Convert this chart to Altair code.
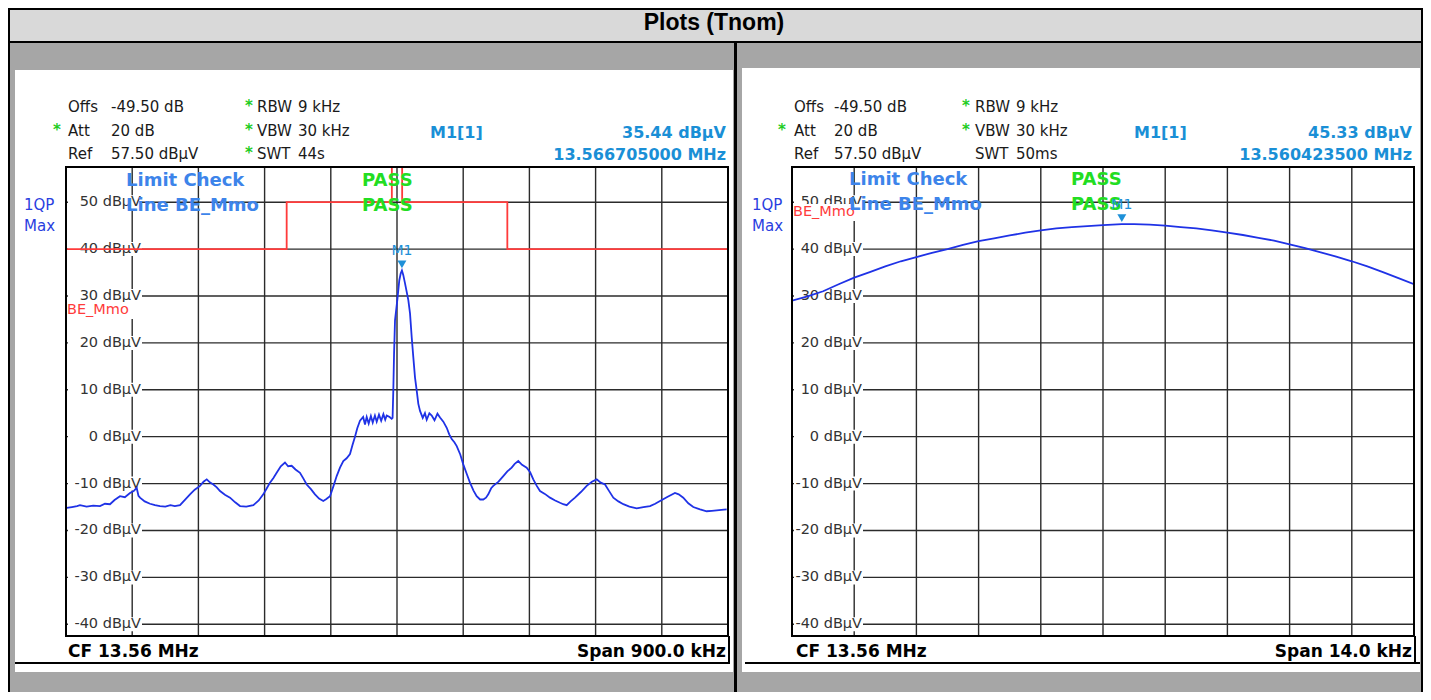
import altair as alt
import pandas as pd

# ---------------- data ----------------
left_freq = [13.1109, 13.1180, 13.1250, 13.1290, 13.1380, 13.1470, 13.1562, 13.1630, 13.1698, 13.1760,
             13.1834, 13.1900, 13.1970, 13.2020, 13.2061, 13.2085, 13.2106, 13.2170, 13.2242, 13.2310,
             13.2378, 13.2450, 13.2520, 13.2580, 13.2650, 13.2720, 13.2786, 13.2850, 13.2922, 13.2970,
             13.3013, 13.3060, 13.3103, 13.3150, 13.3194, 13.3260, 13.3330, 13.3400, 13.3466, 13.3550,
             13.3647, 13.3720, 13.3782, 13.3830, 13.3873, 13.3920, 13.3964, 13.4020, 13.4077, 13.4120,
             13.4168, 13.4220, 13.4281, 13.4330, 13.4372, 13.4430, 13.4485, 13.4540, 13.4598, 13.4640,
             13.4689, 13.4735, 13.4780, 13.4825, 13.4870, 13.4915, 13.4961, 13.4995, 13.5029, 13.5060,
             13.5097, 13.5140, 13.5165, 13.5188, 13.5215, 13.5245, 13.5270, 13.5300, 13.5324, 13.5355,
             13.5385, 13.5415, 13.5440, 13.5460, 13.5500, 13.5528, 13.5540, 13.5550, 13.5560, 13.5573,
             13.5604, 13.5631, 13.5650, 13.5667, 13.5685, 13.5709, 13.5754, 13.5777, 13.5800, 13.5822,
             13.5845, 13.5868, 13.5890, 13.5913, 13.5950, 13.5980, 13.6004, 13.6040, 13.6072, 13.6110,
             13.6150, 13.6185, 13.6230, 13.6276, 13.6310, 13.6344, 13.6380, 13.6412, 13.6460, 13.6501,
             13.6550, 13.6592, 13.6640, 13.6683, 13.6730, 13.6773, 13.6810, 13.6841, 13.6880, 13.6909,
             13.6980, 13.7045, 13.7100, 13.7159, 13.7200, 13.7249, 13.7300, 13.7363, 13.7410, 13.7453,
             13.7500, 13.7544, 13.7610, 13.7680, 13.7750, 13.7816, 13.7860, 13.7907, 13.7960, 13.8020,
             13.8100, 13.8179, 13.8250, 13.8315, 13.8370, 13.8428, 13.8480, 13.8541, 13.8610, 13.8677,
             13.8760, 13.8859, 13.8950, 13.9040, 13.9110, 13.9176, 13.9280, 13.9379, 13.9430, 13.9492,
             13.9560, 13.9628, 13.9720, 13.9810, 13.9880, 13.9946, 14.0010, 14.0082]
left_level = [-15.2, -15.0, -14.8, -14.6, -14.9, -14.7, -14.8, -14.3, -14.4, -13.5,
              -12.7, -12.9, -12.0, -11.6, -10.9, -12.6, -13.0, -13.8, -14.3, -14.6,
              -14.8, -14.9, -14.6, -14.8, -14.6, -13.4, -12.3, -11.3, -10.5, -9.6,
              -9.1, -9.8, -10.2, -10.8, -11.6, -12.4, -13.0, -14.0, -14.8, -14.9,
              -14.6, -13.6, -12.3, -11.0, -9.8, -8.8, -7.7, -6.3, -5.5, -6.3,
              -6.2, -7.0, -7.7, -9.0, -10.2, -11.2, -12.3, -13.2, -13.7, -13.3,
              -12.7, -10.6, -8.4, -6.6, -5.2, -4.6, -3.7, -1.8, 0.0, 1.8,
              3.4, 4.2, 2.6, 4.2, 2.8, 4.4, 3.0, 4.5, 3.2, 4.7,
              3.4, 4.8, 3.6, 4.5, 4.2, 3.8, 4.0, 10.0, 17.7, 24.8,
              29.1, 33.3, 34.8, 35.44, 34.5, 32.7, 29.1, 26.3, 21.2, 16.9,
              12.6, 9.8, 7.0, 5.5, 4.0, 5.0, 3.6, 5.0, 4.5, 3.5,
              4.9, 4.1, 3.2, 1.9, 0.5, -0.5, -1.2, -2.0, -3.8, -5.9,
              -8.0, -9.8, -11.5, -12.7, -13.4, -13.4, -13.0, -12.3, -11.0, -10.5,
              -9.6, -8.4, -7.4, -6.6, -5.8, -5.2, -6.0, -6.6, -7.6, -9.1,
              -10.5, -11.6, -12.2, -13.0, -13.6, -14.1, -14.4, -14.6, -13.8, -13.0,
              -11.8, -10.5, -9.6, -9.1, -9.8, -10.2, -11.5, -13.0, -13.8, -14.4,
              -14.9, -15.3, -15.0, -14.8, -14.3, -13.7, -12.8, -12.0, -12.3, -13.0,
              -14.2, -15.0, -15.5, -15.9, -15.8, -15.7, -15.6, -15.5]

right_freq = [13.55300, 13.55335, 13.55370, 13.55405, 13.55440, 13.55475, 13.55510, 13.55545, 13.55580,
              13.55615, 13.55650, 13.55685, 13.55720, 13.55755, 13.55790, 13.55825, 13.55860, 13.55895,
              13.55930, 13.55965, 13.56000, 13.5604235, 13.56070, 13.56105, 13.56140, 13.56175, 13.56210,
              13.56245, 13.56280, 13.56315, 13.56350, 13.56385, 13.56420, 13.56455, 13.56490, 13.56525,
              13.56560, 13.56595, 13.56630, 13.56665, 13.56700]
right_level = [29.0, 29.9, 31.0, 32.5, 33.9, 35.1, 36.3, 37.4, 38.3,
               39.2, 40.0, 40.9, 41.7, 42.3, 42.9, 43.5, 44.0, 44.4,
               44.7, 44.9, 45.1, 45.33, 45.3, 45.2, 45.0, 44.7, 44.4,
               44.0, 43.5, 43.0, 42.4, 41.8, 41.0, 40.2, 39.3, 38.4,
               37.4, 36.3, 35.1, 33.8, 32.5]

limit_freq = [13.11, 13.11, 13.41, 13.41, 13.553, 13.553, 13.567, 13.567, 13.71, 13.71, 14.01, 14.01]
limit_level = [29.5, 40, 40, 50, 50, 60.5, 60.5, 50, 50, 40, 40, 29.5]

y_ticks = [50, 40, 30, 20, 10, 0, -10, -20, -30, -40]
left_vgrid = [13.20, 13.29, 13.38, 13.47, 13.56, 13.65, 13.74, 13.83, 13.92]
right_vgrid = [13.5544, 13.5558, 13.5572, 13.5586, 13.5600, 13.5614, 13.5628, 13.5642, 13.5656]
left_domain = [13.11, 14.01]
right_domain = [13.553, 13.567]
y_domain = [-42.5, 57.5]

left_marker_freq, left_marker_level = [13.566705], [35.44]
right_marker_freq, right_marker_level = [13.5604235], [45.33]

left_info = {"offs": "-49.50 dB", "att": "20 dB", "ref": "57.50 dBµV", "rbw": "9 kHz", "vbw": "30 kHz",
             "swt": "44s", "mval": "35.44 dBµV", "mfreq": "13.566705000 MHz", "span": "Span 900.0 kHz"}
right_info = {"offs": "-49.50 dB", "att": "20 dB", "ref": "57.50 dBµV", "rbw": "9 kHz", "vbw": "30 kHz",
              "swt": "50ms", "mval": "45.33 dBµV", "mfreq": "13.560423500 MHz", "span": "Span 14.0 kHz"}

# ---------------- helpers ----------------
SANS = "DejaVu Sans"
ONE = pd.DataFrame({"one": [0]})
H = 469


def txt(s, x, y, size=15, color="#1a1a1a", weight="normal", align="left", font=SANS):
    return alt.Chart(ONE).mark_text(text=s, align=align, baseline="middle", fontSize=size,
                                    fontWeight=weight, color=color, font=font).encode(
        x=alt.value(x), y=alt.value(y))


def box(x, x2, y, y2, color):
    return alt.Chart(ONE).mark_rect(color=color).encode(
        x=alt.value(x), x2=alt.value(x2), y=alt.value(y), y2=alt.value(y2))


def hrule(x, x2, y, color="black", w=2):
    return alt.Chart(ONE).mark_rule(color=color, strokeWidth=w).encode(
        x=alt.value(x), x2=alt.value(x2), y=alt.value(y))


def vrule(x, y, y2, color="black", w=2):
    return alt.Chart(ONE).mark_rule(color=color, strokeWidth=w).encode(
        x=alt.value(x), y=alt.value(y), y2=alt.value(y2))


def panel(W, domain, vgrid, tr_f, tr_l, mk_f, mk_l, info, g, decorations):
    xs = alt.Scale(domain=domain, zero=False, nice=False)
    ys = alt.Scale(domain=y_domain, zero=False, nice=False)
    X = lambda f: alt.X(f, type="quantitative", scale=xs, axis=None)
    Y = lambda f: alt.Y(f, type="quantitative", scale=ys, axis=None)

    grid_v = alt.Chart(pd.DataFrame({"f": vgrid})).mark_rule(color="#2b2b2b", strokeWidth=1.4).encode(x=X("f"))
    grid_h = alt.Chart(pd.DataFrame({"v": y_ticks})).mark_rule(color="#2b2b2b", strokeWidth=1.4).encode(y=Y("v"))
    knock = alt.Chart(pd.DataFrame({"v": y_ticks})).mark_rule(
        color="white", strokeWidth=14, strokeCap="butt").encode(
        x=alt.value(2), x2=alt.value(g["lab_r"] + 1), y=Y("v"))
    labels = alt.Chart(pd.DataFrame({"v": y_ticks})).transform_calculate(
        lab="datum.v + ' dBµV'").mark_text(align="right", baseline="middle", fontSize=14.5,
                                          color="#333333", font=SANS).encode(
        x=alt.value(g["lab_r"]), y=Y("v"), text="lab:N")

    lim_df = pd.DataFrame({"f": limit_freq, "l": limit_level, "i": range(len(limit_freq))})
    limit = alt.Chart(lim_df).mark_line(color="#ff3b3b", strokeWidth=1.8, clip=True).encode(
        x=X("f"), y=Y("l"), order="i:Q")
    tr_df = pd.DataFrame({"f": tr_f, "l": tr_l, "i": range(len(tr_f))})
    trace = alt.Chart(tr_df).mark_line(color="#1f32e6", strokeWidth=1.8, clip=True).encode(
        x=X("f"), y=Y("l"), order="i:Q")
    mk_df = pd.DataFrame({"f": mk_f, "l": mk_l, "t": ["M1"]})
    marker = alt.Chart(mk_df).mark_point(shape="triangle-down", filled=True, size=80, opacity=1,
                                         color="#1e90d8", yOffset=-6).encode(x=X("f"), y=Y("l"))
    mlabel = alt.Chart(mk_df).mark_text(dy=-19, fontSize=14, color="#1e90d8", font=SANS).encode(
        x=X("f"), y=Y("l"), text="t:N")

    border = alt.Chart(ONE).mark_rect(fill="white", fillOpacity=0, stroke="black", strokeWidth=2).encode(
        x=alt.value(0), x2=alt.value(W), y=alt.value(0), y2=alt.value(H))

    rows = [-60, -36, -13]
    green = "#22cc22"
    blue = "#1a8fd6"
    texts = [
        txt("Offs", 2, rows[0]), txt(info["offs"], g["val"], rows[0]),
        txt("*", g["ast0"], rows[1] - 1, color=green, weight="bold", align="center"),
        txt("Att", 2, rows[1]), txt(info["att"], g["val"], rows[1]),
        txt("Ref", 2, rows[2]), txt(info["ref"], g["val"], rows[2]),
        txt("RBW", g["rbw"], rows[0]), txt(info["rbw"], g["rbwv"], rows[0]),
        txt("VBW", g["rbw"], rows[1]), txt(info["vbw"], g["rbwv"], rows[1]),
        txt("SWT", g["rbw"], rows[2]), txt(info["swt"], g["rbwv"], rows[2]),
        txt("M1[1]", g["m1"], -34, size=16, color=blue, weight="bold"),
        txt(info["mval"], W - 2, -34, size=16, color=blue, weight="bold", align="right"),
        txt(info["mfreq"], W - 2, -12, size=16, color=blue, weight="bold", align="right"),
        txt("1QP", g["qp"], 38, size=15, color="#2a3ee0"),
        txt("Max", g["qp"], 59, size=15, color="#2a3ee0"),
        txt("CF 13.56 MHz", g["cf"], 485, size=17, color="black", weight="bold"),
        txt(info["span"], W - 2, 485, size=17, color="black", weight="bold", align="right"),
    ]
    for r in g["ast_rows"]:
        texts.append(txt("*", g["ast1"], rows[r] - 1, color=green, weight="bold", align="center"))

    overlay = [
        box(0, g["be_w"], g["be_y"] - 8, g["be_y"] + 9, "white"),
        txt("BE_Mmo", 1, g["be_y"], size=14.5, color="#ff3b3b"),
        txt("Limit Check", g["lc"], g["lc_y"], size=18, color="#3d84ea", weight="bold"),
        txt("Line BE_Mmo", g["lc"], g["lc_y"] + 25, size=18, color="#3d84ea", weight="bold"),
        txt("PASS", g["pass"], g["lc_y"], size=18, color="#22dd22", weight="bold"),
        txt("PASS", g["pass"], g["lc_y"] + 25, size=18, color="#22dd22", weight="bold"),
    ]
    footer = [hrule(g["foot_x"], g["foot_x2"], 496), vrule(W + 1, H, 496)]

    layers = decorations + [grid_v, grid_h, knock, labels, limit, trace] + overlay + [marker, mlabel, border] + texts + footer
    return alt.layer(*layers).properties(width=W, height=H)


# page frame (drawn in the left panel, pixel offsets from its plot origin)
frame = [
    box(-58, 1357, -159, 525, "black"),
    box(-56, 1355, -157, -126, "#d9d9d9"),
    box(-56, 668, -124, 525, "#a6a6a6"),
    box(671, 1355, -124, 525, "#a6a6a6"),
    box(-51, 667, -97, 505, "white"),
    box(676, 1354, -99, 505, "white"),
    txt("Plots (Tnom)", 648, -144, size=23, color="black", weight="bold", align="center",
        font="Liberation Sans"),
]

left_geom = {"lab_r": 75, "val": 45, "ast0": -9, "ast1": 183, "rbw": 191, "rbwv": 232, "m1": 364,
             "qp": -42, "cf": 2, "be_y": 143, "be_w": 72, "lc": 60, "lc_y": 14, "pass": 296,
             "foot_x": -51, "foot_x2": 664, "ast_rows": [0, 1, 2]}
right_geom = {"lab_r": 70, "val": 42, "ast0": -10, "ast1": 174, "rbw": 183, "rbwv": 224, "m1": 342,
              "qp": -40, "cf": 4, "be_y": 45, "be_w": 70, "lc": 57, "lc_y": 13, "pass": 279,
              "foot_x": -47, "foot_x2": 628, "ast_rows": [0, 1]}

left = panel(662, left_domain, left_vgrid, left_freq, left_level, left_marker_freq, left_marker_level,
             left_info, left_geom, frame)
right = panel(622, right_domain, right_vgrid, right_freq, right_level, right_marker_freq,
              right_marker_level, right_info, right_geom, [])

chart = alt.hconcat(left, right, spacing=64, bounds="flush", padding=0, background="white").configure_view(
    strokeWidth=0)

chart.save("out.html", embed_options={"renderer": "svg", "actions": False})
